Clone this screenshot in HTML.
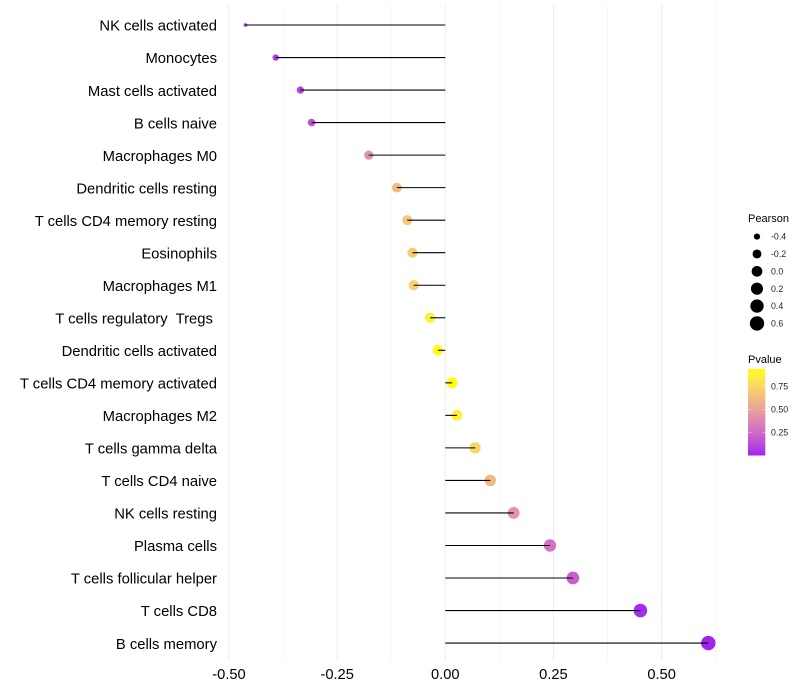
<!DOCTYPE html>
<html lang="en">
<head>
<meta charset="utf-8">
<title>Immune cell correlation lollipop chart</title>
<style>
html,body{margin:0;padding:0;background:#fff;width:800px;height:700px;overflow:hidden}
svg{display:block;font-family:"Liberation Sans",Arial,sans-serif}
text{white-space:pre}
</style>
</head>
<body>
<svg id="chart" width="800" height="700" viewBox="0 0 800 700" xmlns="http://www.w3.org/2000/svg">
<defs>
<linearGradient id="pvalue-gradient" x1="0" y1="1" x2="0" y2="0"></linearGradient>
</defs>
</svg>
<script>
const categories = ["NK cells activated","Monocytes","Mast cells activated","B cells naive","Macrophages M0","Dendritic cells resting","T cells CD4 memory resting","Eosinophils","Macrophages M1","T cells regulatory  Tregs ","Dendritic cells activated","T cells CD4 memory activated","Macrophages M2","T cells gamma delta","T cells CD4 naive","NK cells resting","Plasma cells","T cells follicular helper","T cells CD8","B cells memory"];
const pearsonValues = [-0.462,-0.392,-0.335,-0.309,-0.177,-0.112,-0.088,-0.076,-0.073,-0.035,-0.017,0.016,0.027,0.069,0.104,0.158,0.242,0.295,0.451,0.608];
const pvalueValues = [0.03,0.08,0.11,0.15,0.44,0.62,0.68,0.71,0.72,0.87,0.93,0.93,0.88,0.74,0.61,0.45,0.29,0.21,0.03,0.01];
const xTickValues = [-0.5,-0.25,0,0.25,0.5];
const xTickLabels = ["-0.50","-0.25","0.00","0.25","0.50"];
const xMinorValues = [-0.375,-0.125,0.125,0.375,0.625];
const sizeLegendValues = [-0.4,-0.2,0,0.2,0.4,0.6];
const sizeLegendLabels = ["-0.4","-0.2","0.0","0.2","0.4","0.6"];
const colorLegendValues = [0.75,0.5,0.25];
const colorLegendLabels = ["0.75","0.50","0.25"];

const NS = "http://www.w3.org/2000/svg";
const svg = document.getElementById("chart");
const panelTop = 5, panelBottom = 660;
function xScale(v){ return 445.3 + v * 432.6; }
function yScale(i){ return 25 + i * 32.53; }
const minPearson = Math.min(...pearsonValues);
const maxPearson = Math.max(...pearsonValues);
function radiusScale(v){
  const t = Math.max(0, (v - minPearson) / (maxPearson - minPearson));
  return 1.8 + 5.4 * Math.sqrt(t);
}
function srgbToLab(c){
  const lin = c.map(function(u){ u /= 255; return u > 0.04045 ? Math.pow((u + 0.055) / 1.055, 2.4) : u / 12.92; });
  const X = (0.4124 * lin[0] + 0.3576 * lin[1] + 0.1805 * lin[2]) / 0.95047;
  const Y = 0.2126 * lin[0] + 0.7152 * lin[1] + 0.0722 * lin[2];
  const Z = (0.0193 * lin[0] + 0.1192 * lin[1] + 0.9505 * lin[2]) / 1.08883;
  const f = function(t){ return t > 0.008856 ? Math.cbrt(t) : 7.787 * t + 16 / 116; };
  return [116 * f(Y) - 16, 500 * (f(X) - f(Y)), 200 * (f(Y) - f(Z))];
}
function labToCss(l){
  const fy = (l[0] + 16) / 116, fx = fy + l[1] / 500, fz = fy - l[2] / 200;
  const g = function(t){ return t * t * t > 0.008856 ? t * t * t : (t - 16 / 116) / 7.787; };
  const X = g(fx) * 0.95047, Y = g(fy), Z = g(fz) * 1.08883;
  const rgb = [3.2406 * X - 1.5372 * Y - 0.4986 * Z, -0.9689 * X + 1.8758 * Y + 0.0415 * Z, 0.0557 * X - 0.204 * Y + 1.057 * Z];
  const out = rgb.map(function(u){
    u = Math.max(0, Math.min(1, u));
    u = u > 0.0031308 ? 1.055 * Math.pow(u, 1 / 2.4) - 0.055 : 12.92 * u;
    return Math.round(u * 255);
  });
  return "rgb(" + out.join(",") + ")";
}
const labLow = srgbToLab([160, 32, 240]);
const labHigh = srgbToLab([255, 255, 0]);
function colorScale(p){
  const t = Math.max(0, Math.min(1, p / 0.94));
  return labToCss(labLow.map(function(a, k){ return a + (labHigh[k] - a) * t; }));
}
function make(tag, attrs, text){
  const el = document.createElementNS(NS, tag);
  Object.keys(attrs).forEach(function(k){ el.setAttribute(k, attrs[k]); });
  if (text !== undefined) el.textContent = text;
  svg.appendChild(el);
  return el;
}

xMinorValues.forEach(function(v){
  const el = make("line", {x1:xScale(v), x2:xScale(v), y1:panelTop, y2:panelBottom, stroke:"#f4f4f4", "stroke-width":0.8});
  
  
});
xTickValues.forEach(function(v){
  const el = make("line", {x1:xScale(v), x2:xScale(v), y1:panelTop, y2:panelBottom, stroke:"#ededed", "stroke-width":1.1});
  
  
});
xTickValues.forEach(function(v, i){
  const el = make("text", {x:xScale(v), y:679, "text-anchor":"middle", "font-size":14.67, fill:"#000"}, xTickLabels[i]);
  
  
});
categories.forEach(function(c, i){
  const el = make("text", {x:217, y:yScale(i) + 5.7, "text-anchor":"end", "font-size":14.8, fill:"#000"}, c);
  
  
});
pearsonValues.forEach(function(v, i){
  const el = make("circle", {cx:xScale(v), cy:yScale(i), r:radiusScale(v), fill:colorScale(pvalueValues[i])});
  
  
});
pearsonValues.forEach(function(v, i){
  const el = make("line", {x1:xScale(0), x2:xScale(v), y1:yScale(i), y2:yScale(i), stroke:"#000", "stroke-width":1.07});
  
  
});

const pearsonTitle = make("text", {x:748, y:222, "font-size":11, fill:"#000"}, "Pearson");


sizeLegendValues.forEach(function(v, i){
  const cy = 236.6 + i * 17.36;
  const dot = make("circle", {cx:757, cy:cy, r:radiusScale(v), fill:"#000"});
  
  
  const lab = make("text", {x:771, y:cy + 3.1, "font-size":8.8, fill:"#222"}, sizeLegendLabels[i]);
  
  
});

const pvalueTitle = make("text", {x:748, y:363, "font-size":11, fill:"#000"}, "Pvalue");


const gradient = document.getElementById("pvalue-gradient");
for (let s = 0; s <= 20; s++) {
  const stop = document.createElementNS(NS, "stop");
  stop.setAttribute("offset", s / 20);
  stop.setAttribute("stop-color", colorScale(0.005 + (0.94 - 0.005) * s / 20));
  gradient.appendChild(stop);
}
const colorBarBottom = 455.5, colorBarTop = 369;
function barScale(p){ return 409.5 - (p - 0.5) * 92; }
const bar = make("rect", {x:748, y:colorBarTop, width:17.3, height:colorBarBottom - colorBarTop, fill:"url(#pvalue-gradient)"});


colorLegendValues.forEach(function(p, i){
  const y = barScale(p);
  [[748, 751.5], [761.8, 765.3]].forEach(function(seg){
    const t = make("line", {x1:seg[0], x2:seg[1], y1:y, y2:y, stroke:"#fff", "stroke-opacity":0.6, "stroke-width":0.6});
    
    
  });
  const lab = make("text", {x:771, y:y + 3.1, "font-size":8.8, fill:"#222"}, colorLegendLabels[i]);
  
  
});
</script>
</body>
</html>
